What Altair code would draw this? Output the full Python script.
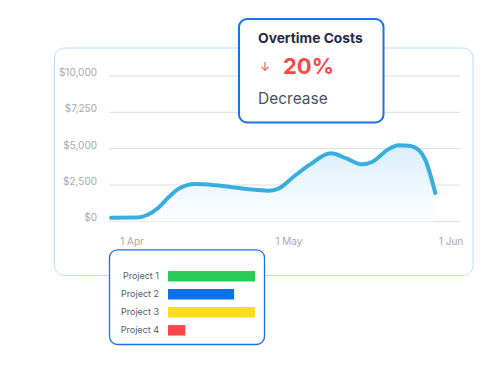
import altair as alt
import pandas as pd

# ---- data ----
dates = ["2024-03-28", "2024-04-02", "2024-04-04", "2024-04-06", "2024-04-08",
         "2024-04-10", "2024-04-13", "2024-04-17", "2024-04-23", "2024-04-27",
         "2024-04-29", "2024-05-02", "2024-05-05", "2024-05-09", "2024-05-12",
         "2024-05-15", "2024-05-17", "2024-05-20", "2024-05-22", "2024-05-24",
         "2024-05-26", "2024-05-27", "2024-05-29"]
costs = [250, 260, 450, 920, 1650, 2250, 2560, 2480, 2220, 2110,
         2250, 3100, 3900, 4680, 4330, 3920, 4100, 4950, 5240, 5200,
         4850, 4300, 1950]

y_ticks = [0, 2500, 5000, 7500, 10000]
y_tick_labels = ["$0", "$2,500", "$5,000", "$7,250", "$10,000"]
x_ticks = ["2024-04-01", "2024-05-01", "2024-06-01"]
x_tick_labels = ["1 Apr", "1 May", "1 Jun"]

projects = ["Project 1", "Project 2", "Project 3", "Project 4"]
project_values = [100, 76, 100, 20]
project_colors = ["#2bcb5a", "#0b72ea", "#ffdb20", "#ff4747"]

card_title = ["Overtime Costs"]
card_arrow = ["\u2193"]
card_value = ["20%"]
card_label = ["Decrease"]

FONT = "Inter"
BLUE = "#1a70e8"

line_df = pd.DataFrame({"date": dates, "cost": costs})
ytick_df = pd.DataFrame({"v": y_ticks, "label": y_tick_labels})
xtick_df = pd.DataFrame({"date": x_ticks, "label": x_tick_labels})
proj_df = pd.DataFrame({"project": projects, "value": project_values})
one = pd.DataFrame({"k": [0]})

yscale = alt.Scale(domain=[0, 10000], range=[213.3, 68])
xscale = alt.Scale(type="utc",
                   domain=[alt.DateTime(year=2024, month=4, date=1, utc=True),
                           alt.DateTime(year=2024, month=6, date=1, utc=True)],
                   range=[124, 443])

outer = alt.Chart(one).mark_rect(
    fill="white", stroke="#bcdcf8", strokeWidth=1, cornerRadius=10
).encode(x=alt.value(46.5), x2=alt.value(465), y=alt.value(40), y2=alt.value(267.5))

grid = alt.Chart(ytick_df).mark_rule(color="#dddddd", strokeWidth=1).encode(
    y=alt.Y("v:Q", scale=yscale, axis=None),
    x=alt.value(101), x2=alt.value(452)
)

ylabels = alt.Chart(ytick_df).mark_text(
    align="right", baseline="middle", dy=-3, font=FONT, fontSize=10, color="#a9a9a9"
).encode(
    y=alt.Y("v:Q", scale=yscale, axis=None),
    x=alt.value(89), text="label:N"
)

xlabels = alt.Chart(xtick_df).mark_text(
    align="center", baseline="middle", font=FONT, fontSize=10, color="#a9a9a9"
).encode(
    x=alt.X("date:T", scale=xscale, axis=None),
    y=alt.value(234), text="label:N"
)

area = alt.Chart(line_df).mark_area(
    interpolate="monotone",
    color=alt.Gradient(
        gradient="linear",
        stops=[alt.GradientStop(color="#d8eefa", offset=0),
               alt.GradientStop(color="#ffffff", offset=1)],
        x1=0, x2=0, y1=0, y2=1)
).encode(
    x=alt.X("date:T", scale=xscale, axis=None),
    y=alt.Y("cost:Q", scale=yscale, axis=None)
)

line = alt.Chart(line_df).mark_line(
    interpolate="monotone", color="#38aee0", strokeWidth=4, strokeCap="round"
).encode(
    x=alt.X("date:T", scale=xscale, axis=None),
    y=alt.Y("cost:Q", scale=yscale, axis=None)
)

tip_box = alt.Chart(one).mark_rect(
    fill="white", stroke=BLUE, strokeWidth=2, cornerRadius=8
).encode(x=alt.value(231), x2=alt.value(375.5), y=alt.value(11), y2=alt.value(114.5))

tip_title = alt.Chart(pd.DataFrame({"t": card_title})).mark_text(
    align="left", baseline="middle", font=FONT, fontSize=13.8, fontWeight="bold", color="#1f2a44"
).encode(x=alt.value(250), y=alt.value(30.5), text="t:N")

tip_arrow = alt.Chart(pd.DataFrame({"t": card_arrow})).mark_text(
    align="center", baseline="middle", font=FONT, fontSize=12, color="#f24b4b"
).encode(x=alt.value(257), y=alt.value(58.5), text="t:N")

tip_value = alt.Chart(pd.DataFrame({"t": card_value})).mark_text(
    align="left", baseline="middle", font=FONT, fontSize=22, fontWeight="bold", color="#f24b4b"
).encode(x=alt.value(275), y=alt.value(58.5), text="t:N")

tip_label = alt.Chart(pd.DataFrame({"t": card_label})).mark_text(
    align="left", baseline="middle", font=FONT, fontSize=15.5, color="#4a4f63"
).encode(x=alt.value(250), y=alt.value(91), text="t:N")

bar_box = alt.Chart(one).mark_rect(
    fill="white", stroke=BLUE, strokeWidth=1.3, cornerRadius=8
).encode(x=alt.value(101.5), x2=alt.value(256.5), y=alt.value(241.8), y2=alt.value(336.5))

pscale = alt.Scale(type="band", domain=projects, range=[259.3, 331.3], paddingInner=0, paddingOuter=0)

bars = alt.Chart(proj_df).mark_bar(size=10.5).encode(
    y=alt.Y("project:N", scale=pscale, axis=None),
    x=alt.X("value:Q", scale=alt.Scale(domain=[0, 100], range=[160, 247]), axis=None),
    color=alt.Color("project:N", scale=alt.Scale(domain=projects, range=project_colors), legend=None)
)

bar_labels = alt.Chart(proj_df).mark_text(
    align="right", baseline="middle", font=FONT, fontSize=9, color="#555a66"
).encode(
    y=alt.Y("project:N", scale=pscale, axis=None),
    x=alt.value(151), text="project:N"
)

chart = alt.layer(
    outer, grid, ylabels, xlabels, area, line,
    tip_box, tip_title, tip_arrow, tip_value, tip_label,
    bar_box, bars, bar_labels
).resolve_scale(
    x="independent", y="independent", color="independent"
).properties(
    width=468, height=349, padding=0, autosize="none", background="white"
).configure_view(stroke=None)

chart.save("out.html", embed_options={"renderer": "svg", "actions": False})
